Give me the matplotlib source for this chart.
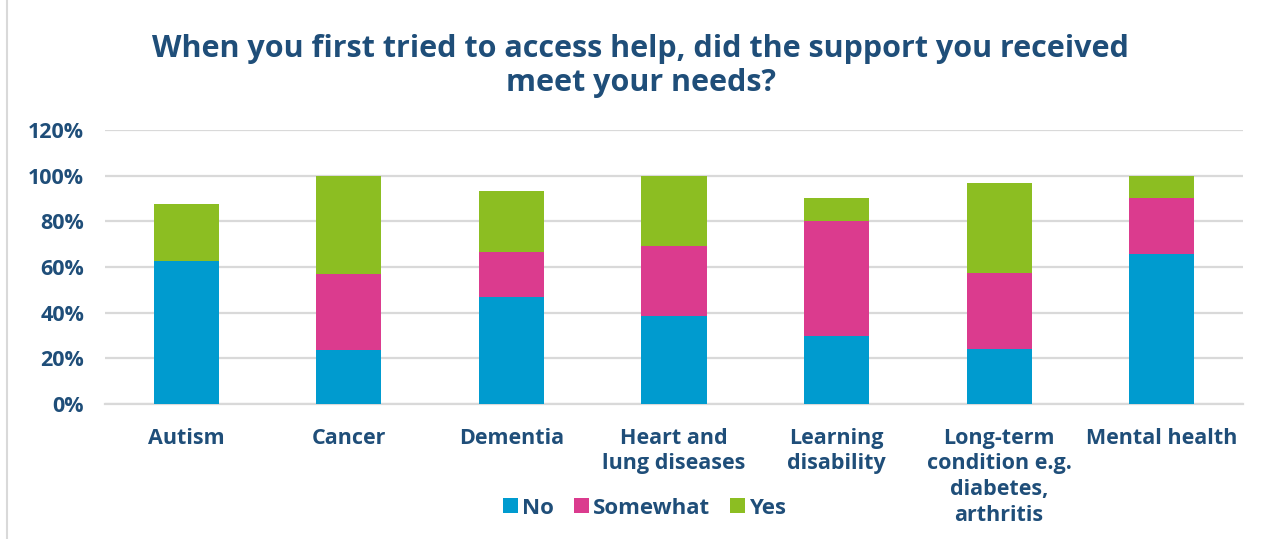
import matplotlib
matplotlib.use("Agg")
import matplotlib.pyplot as plt
from matplotlib.patches import Patch
from matplotlib.lines import Line2D

categories = ["Autism", "Cancer", "Dementia", "Heart and\nlung diseases",
              "Learning\ndisability", "Long-term\ncondition e.g.\ndiabetes,\narthritis",
              "Mental health"]
no_vals = [62.5, 23.8, 46.7, 38.5, 30.0, 24.0, 65.8]
somewhat_vals = [0.0, 33.3, 20.0, 30.8, 50.0, 33.3, 24.5]
yes_vals = [25.0, 42.9, 26.7, 30.7, 10.0, 39.5, 9.7]
yticks = [0, 20, 40, 60, 80, 100, 120]
series_names = ["No", "Somewhat", "Yes"]
colors = ["#009BCF", "#DB3B8E", "#8CBE22"]
text_color = "#1F4E79"

plt.rcParams['font.family'] = ['Open Sans', 'DejaVu Sans']

fig = plt.figure(figsize=(12.69, 5.39), dpi=100)
ax = fig.add_axes([105/1269, 1 - 404/539, (1243-105)/1269, (404-130)/539])

x = list(range(len(categories)))
bottom2 = [a + b for a, b in zip(no_vals, somewhat_vals)]
w = 0.4
ax.bar(x, no_vals, w, color=colors[0], zorder=3)
ax.bar(x, somewhat_vals, w, bottom=no_vals, color=colors[1], zorder=3)
ax.bar(x, yes_vals, w, bottom=bottom2, color=colors[2], zorder=3)

ax.set_xlim(-0.5, len(categories) - 0.5)
ax.set_ylim(0, 120)
ax.set_yticks(yticks)
ax.set_yticklabels([f"{v}%" for v in yticks])
ax.yaxis.grid(True, color="#D9D9D9", linewidth=1.6, zorder=0)
ax.set_axisbelow(True)
for s in ["top", "right", "left"]:
    ax.spines[s].set_visible(False)
ax.spines["bottom"].set_color("#D9D9D9")
ax.spines["bottom"].set_linewidth(1.6)
ax.tick_params(axis="both", length=0, labelsize=15.5, labelcolor=text_color)
ax.tick_params(axis="y", pad=15)
ax.tick_params(axis="x", pad=17)
ax.set_xticks(x)
ax.set_xticklabels(categories, fontweight="bold", linespacing=1.3, va="top")
for lbl in ax.get_yticklabels():
    lbl.set_fontweight("bold")

fig.text(0.505, 1 - 66/539, "When you first tried to access help, did the support you received\nmeet your needs?",
         ha="center", va="center", fontsize=22, fontweight="bold", color=text_color,
         linespacing=1.15)

handles = [Patch(facecolor=c, edgecolor="none") for c in colors]
leg = fig.legend(handles, series_names, loc="center", bbox_to_anchor=(0.508, 1 - 508/539),
                 ncol=3, frameon=False, fontsize=16, handlelength=0.65, handleheight=0.65,
                 handletextpad=0.2, columnspacing=0.9)
for t in leg.get_texts():
    t.set_color(text_color)
    t.set_fontweight("bold")

fig.add_artist(Line2D([7/1269, 7/1269], [0, 1], color="#D9D9D9", linewidth=1.5,
                      transform=fig.transFigure))

fig.savefig("out.png", dpi=100)
